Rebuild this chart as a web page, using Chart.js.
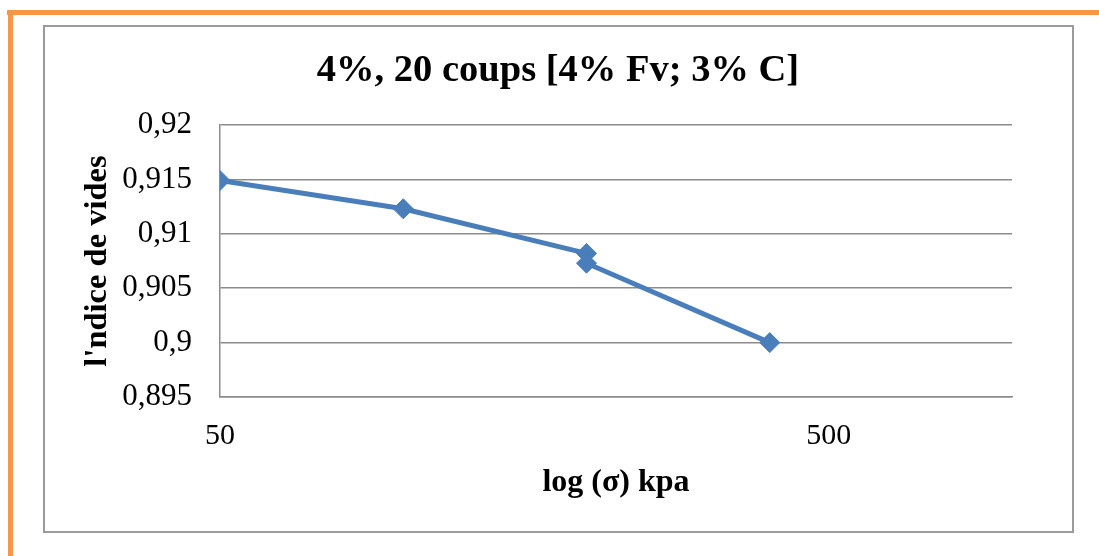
<!DOCTYPE html>
<html>
<head>
<meta charset="utf-8">
<script src="https://cdn.jsdelivr.net/npm/chart.js@4"></script>
<style>
  html, body { margin: 0; padding: 0; background: #fff; }
  #wrap { position: relative; width: 1099px; height: 556px; }
</style>
</head>
<body>
<div id="wrap"><canvas id="voidChart" width="1099" height="556"></canvas></div>
<script>
// values
const pressures = [50, 100, 200, 200, 400];
const voidRatios = [0.9149, 0.9123, 0.9082, 0.9073, 0.9000];
const xTickValues = [50, 500];
const yTickValues = [0.895, 0.9, 0.905, 0.91, 0.915, 0.92];

const chartTitle = "4%, 20 coups [4% Fv; 3% C]";
const xTitle = "log (σ) kpa";
const yTitle = "l'ndice de vides";

const serif = "'Liberation Serif', 'Times New Roman', serif";

// orange page lines, grey chart frame and the title
const framePlugin = {
    id: 'frame',
    beforeDraw(chart) {
        const c = chart.ctx;
        c.save();
        c.fillStyle = '#fff';
        c.fillRect(0, 0, chart.width, chart.height);
        c.fillStyle = '#F79646';
        c.fillRect(7, 10, 1092, 5);
        c.fillRect(8, 10, 5, 546);
        c.strokeStyle = '#9a9a9a';
        c.lineWidth = 2;
        c.strokeRect(44, 26, 1029, 506);
        c.fillStyle = '#000';
        c.font = "bold 38.5px " + serif;
        c.textAlign = 'center';
        c.textBaseline = 'middle';
        c.fillText(chartTitle, 558, 71);
        c.restore();
    }
};

let ctx = document.getElementById("voidChart").getContext("2d");
let voidChart = new Chart(ctx, {
    type: "line",
    data: {
        datasets: [{
            data: pressures.map((p, i) => ({ x: p, y: voidRatios[i] })),
            borderColor: "#4A7EBB",
            backgroundColor: "#4A7EBB",
            borderWidth: 5,
            pointStyle: "rectRot",
            pointRadius: 10,
            pointBorderWidth: 1,
            tension: 0
        }]
    },
    options: {
        responsive: false,
        animation: false,
        layout: { padding: { top: 125, left: 0, right: 87, bottom: 54 } },
        plugins: {
            legend: { display: false },
            title: { display: false },
            tooltip: { enabled: false }
        },
        scales: {
            x: {
                type: "logarithmic",
                min: 50,
                max: 1000,
                afterBuildTicks: axis => { axis.ticks = xTickValues.map(v => ({ value: v })); },
                afterFit: axis => { axis.height = 105; },
                grid: { display: false, drawTicks: false },
                border: { display: true, color: "#8c8c8c", width: 1.5 },
                ticks: {
                    padding: 21,
                    maxRotation: 0,
                    color: "#000",
                    font: { family: serif, size: 30 },
                    callback: v => String(v)
                },
                title: {
                    display: true,
                    text: xTitle,
                    color: "#000",
                    padding: { top: 0, bottom: 0 },
                    font: { family: serif, size: 32, weight: "bold" }
                }
            },
            y: {
                min: 0.895,
                max: 0.92,
                afterBuildTicks: axis => { axis.ticks = yTickValues.map(v => ({ value: v })); },
                afterFit: axis => { axis.width = 220; },
                grid: { color: "#8c8c8c", lineWidth: 1.5, drawTicks: false },
                border: { display: true, color: "#8c8c8c", width: 1.5 },
                ticks: {
                    padding: 28,
                    color: "#000",
                    font: { family: serif, size: 31 },
                    callback: v => String(Math.round(v * 1000) / 1000).replace(".", ",")
                },
                title: {
                    display: true,
                    text: yTitle,
                    color: "#000",
                    padding: { top: 78, bottom: 0 },
                    font: { family: serif, size: 32.5, weight: "bold" }
                }
            }
        }
    },
    plugins: [framePlugin]
});
</script>
</body>
</html>
